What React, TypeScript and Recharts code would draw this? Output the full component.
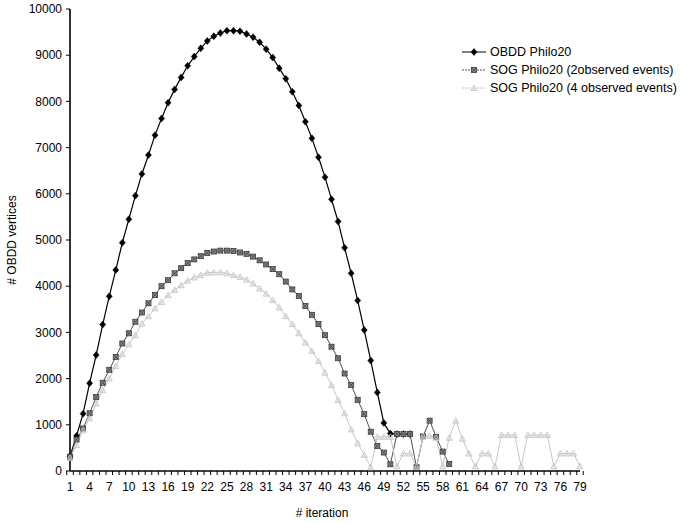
import { LineChart, Line, XAxis, YAxis } from "recharts";

// iteration numbers 1..79
const iterations = [
    1, 2, 3, 4, 5, 6, 7, 8, 9, 10, 11, 12, 13, 14, 15, 16, 17, 18, 19, 20,
    21, 22, 23, 24, 25, 26, 27, 28, 29, 30, 31, 32, 33, 34, 35, 36, 37, 38, 39, 40,
    41, 42, 43, 44, 45, 46, 47, 48, 49, 50, 51, 52, 53, 54, 55, 56, 57, 58, 59, 60,
    61, 62, 63, 64, 65, 66, 67, 68, 69, 70, 71, 72, 73, 74, 75, 76, 77, 78, 79,
];

const obddPhilo20 = [
    320, 760, 1240, 1900, 2510, 3170, 3780, 4350, 4940, 5450,
    5960, 6430, 6840, 7270, 7630, 7970, 8260, 8520, 8770, 8970,
    9150, 9310, 9410, 9480, 9530, 9530, 9520, 9460, 9390, 9280,
    9130, 8950, 8720, 8490, 8210, 7910, 7560, 7200, 6790, 6360,
    5880, 5400, 4830, 4280, 3690, 3050, 2390, 1700, 1040, 810,
    800, 800, 800,
];

const sogPhilo20Two = [
    310, 680, 920, 1250, 1600, 1910, 2190, 2470, 2760, 2980,
    3230, 3430, 3630, 3810, 4000, 4130, 4280, 4390, 4500, 4580,
    4650, 4720, 4750, 4770, 4770, 4760, 4730, 4700, 4640, 4560,
    4470, 4370, 4260, 4100, 3930, 3790, 3570, 3380, 3180, 2940,
    2690, 2440, 2110, 1860, 1540, 1230, 850, 540, 400, 145,
    800, 800, 800, 80, 750, 1090, 740, 420, 150,
];

const sogPhilo20Four = [
    280, 560, 880, 1140, 1460, 1750, 2000, 2270, 2530, 2740,
    2940, 3190, 3350, 3520, 3660, 3810, 3920, 4020, 4120, 4190,
    4240, 4290, 4300, 4300, 4280, 4240, 4200, 4140, 4060, 3950,
    3840, 3700, 3540, 3350, 3180, 2980, 2780, 2600, 2380, 2130,
    1860, 1540, 1250, 900, 600, 350, 80, 740, 740, 740,
    100, 380, 380, 90, 760, 760, 720, 100, 720, 1090,
    700, 380, 100, 380, 380, 100, 780, 780, 780, 100,
    780, 780, 780, 780, 100, 380, 380, 380, 100,
];

const yTicks = [0, 1000, 2000, 3000, 4000, 5000, 6000, 7000, 8000, 9000, 10000];

const data = iterations.map((it, i) => ({
    it,
    obdd: obddPhilo20[i],
    sog2: sogPhilo20Two[i],
    sog4: sogPhilo20Four[i],
}));

const W = 680;
const H = 523;
const M = { top: 9, right: 100, left: 0, bottom: 0 };
const Y_W = 70;
const X_H = 52;
const PLOT_W = W - M.left - M.right - Y_W;
const BAND = PLOT_W / iterations.length;
const FONT = "Arial, 'Liberation Sans', sans-serif";

const Diamond = ({ cx, cy }: any) => (
    <path d={`M${cx},${cy - 3.5}L${cx + 3},${cy}L${cx},${cy + 3.5}L${cx - 3},${cy}Z`} fill="#000" stroke="#000" strokeWidth={0.5} />
);
const Square = ({ cx, cy }: any) => (
    <g>
        <rect x={cx - 2.5} y={cy - 2.5} width={5} height={5} fill="#8a8a8a" stroke="#3a3a3a" strokeWidth={0.8} />
        <path d={`M${cx - 2.5},${cy - 2.5}L${cx + 2.5},${cy + 2.5}M${cx + 2.5},${cy - 2.5}L${cx - 2.5},${cy + 2.5}`} stroke="#3a3a3a" strokeWidth={0.7} />
    </g>
);
const Tri = ({ cx, cy }: any) => (
    <g>
        <path d={`M${cx},${cy - 3}L${cx + 3},${cy + 2.5}L${cx - 3},${cy + 2.5}Z`} fill="none" stroke="#c4c4c4" strokeWidth={0.9} />
        <path d={`M${cx - 2},${cy - 0.5}L${cx + 2},${cy + 2.5}M${cx + 2},${cy - 0.5}L${cx - 2},${cy + 2.5}`} stroke="#d0d0d0" strokeWidth={0.7} />
    </g>
);

const dotOf = (Shape: any) => (p: any) => {
    if (p.cy == null || p.value == null) return <g key={`n-${p.index}`} />;
    return <Shape key={`d-${p.index}`} cx={p.cx} cy={p.cy} />;
};

const XTick = (p: any) => {
    const { x, y, payload, index } = p;
    const left = x - BAND / 2;
    return (
        <g>
            <line x1={left} y1={y} x2={left} y2={y + 4} stroke="#000" />
            {index === iterations.length - 1 && (
                <line x1={x + BAND / 2} y1={y} x2={x + BAND / 2} y2={y + 4} stroke="#000" />
            )}
            {index % 3 === 0 && (
                <text x={x} y={y + 20} textAnchor="middle" fontSize={12} fontFamily={FONT} fill="#000">
                    {payload.value}
                </text>
            )}
        </g>
    );
};

const legendItems = [
    { label: "OBDD Philo20", color: "#000", dash: undefined, Shape: Diamond },
    { label: "SOG Philo20 (2observed events)", color: "#555", dash: "2 1", Shape: Square },
    { label: "SOG Philo20 (4 observed events)", color: "#c4c4c4", dash: "2 1", Shape: Tri },
];

export default function App() {
    return (
        <div style={{ position: "absolute", left: 0, top: 0, width: W, height: H, background: "#fff", fontFamily: FONT }}>
            <LineChart width={W} height={H} data={data} margin={M}>
                <XAxis
                    dataKey="it"
                    type="category"
                    interval={0}
                    height={X_H}
                    tickSize={0}
                    tickMargin={0}
                    tickLine={false}
                    axisLine={{ stroke: "#000", strokeWidth: 1.5 }}
                    tick={<XTick />}
                />
                <YAxis
                    domain={[0, 10000]}
                    ticks={yTicks}
                    width={Y_W}
                    interval={0}
                    tickSize={4}
                    tickMargin={4}
                    axisLine={{ stroke: "#333", strokeWidth: 2 }}
                    tickLine={{ stroke: "#000" }}
                    tick={{ fill: "#000", fontSize: 12, fontFamily: FONT }}
                />
                <Line dataKey="obdd" stroke="#000" strokeWidth={1.2} dot={dotOf(Diamond)} isAnimationActive={false} activeDot={false} />
                <Line dataKey="sog2" stroke="#505050" strokeWidth={1} dot={dotOf(Square)} isAnimationActive={false} activeDot={false} />
                <Line dataKey="sog4" stroke="#c8c8c8" strokeWidth={1} dot={dotOf(Tri)} isAnimationActive={false} activeDot={false} />
            </LineChart>

            {/* axis titles */}
            <div style={{ position: "absolute", left: 12, top: 240, transform: "translate(-50%, -50%) rotate(-90deg)", fontSize: 12, whiteSpace: "nowrap" }}>
                # OBDD vertices
            </div>
            <div style={{ position: "absolute", left: 322, top: 513, transform: "translate(-50%, -50%)", fontSize: 12, whiteSpace: "nowrap" }}>
                # iteration
            </div>

            {/* legend */}
            <div style={{ position: "absolute", left: 460, top: 43, fontSize: 12.5, lineHeight: "18px" }}>
                {legendItems.map((it) => (
                    <div key={it.label} style={{ display: "flex", alignItems: "center", height: 18 }}>
                        <svg width={28} height={18}>
                            <line x1={2} y1={9} x2={26} y2={9} stroke={it.color} strokeDasharray={it.dash} />
                            <it.Shape cx={14} cy={9} />
                        </svg>
                        <span style={{ marginLeft: 2, whiteSpace: "nowrap" }}>{it.label}</span>
                    </div>
                ))}
            </div>
        </div>
    );
}
